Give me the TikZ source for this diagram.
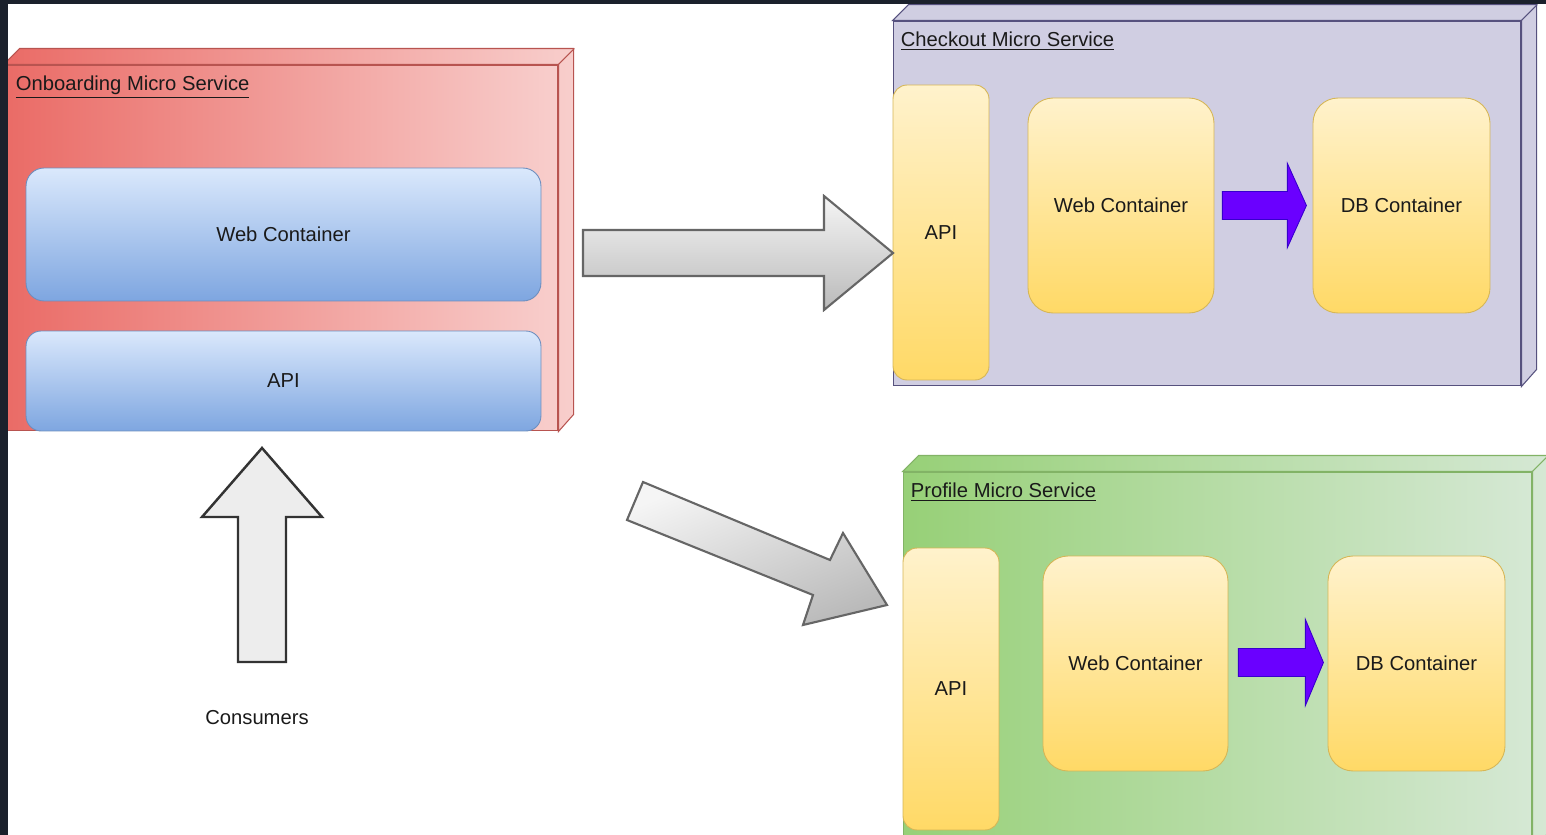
\documentclass[tikz,border=0pt]{standalone}
\usepackage{fontspec}
\setmainfont{Liberation Sans}
\usetikzlibrary{positioning,calc}

\definecolor{frame}{HTML}{1B212C}
\definecolor{txt}{HTML}{1A1A1A}
\definecolor{onbL}{HTML}{EA6B66}
\definecolor{onbR}{HTML}{F8CECC}
\definecolor{onbD}{HTML}{B85450}
\definecolor{chkF}{HTML}{D0CEE2}
\definecolor{chkD}{HTML}{56517E}
\definecolor{prfL}{HTML}{97D077}
\definecolor{prfR}{HTML}{D5E8D4}
\definecolor{prfD}{HTML}{82B366}
\definecolor{bluT}{HTML}{DAE8FC}
\definecolor{bluB}{HTML}{7EA6E0}
\definecolor{bluD}{HTML}{6C8EBF}
\definecolor{yelT}{HTML}{FFF2CC}
\definecolor{yelB}{HTML}{FFD966}
\definecolor{yelD}{HTML}{D6B656}
\definecolor{purF}{HTML}{6A00FF}
\definecolor{purD}{HTML}{3700CC}

\begin{document}
\begin{tikzpicture}[x=0.02cm,y=-0.02cm,
  every node/.style={font=\fontsize{11.5}{13}\selectfont, text=txt},
  title/.style={anchor=base west, inner sep=0pt},
  onbbox/.style={draw=onbD, line width=0.6pt, shading=axis, left color=onbL, right color=onbR, inner sep=0pt},
  chkbox/.style={draw=chkD, line width=0.6pt, fill=chkF, inner sep=0pt},
  prfbox/.style={draw=prfD, line width=0.6pt, shading=axis, left color=prfL, right color=prfR, inner sep=0pt},
  bluebox/.style={draw=bluD, line width=0.5pt, shading=axis, top color=bluT, bottom color=bluB, rounded corners=0.36cm},
  yelbox/.style={draw=yelD, line width=0.5pt, shading=axis, top color=yelT, bottom color=yelB},
  bigarrow/.style={draw=black!60, line width=1.2pt, line join=miter, shading=axis, top color=black!4, bottom color=black!27},
  uparrow/.style={draw=black!80, line width=1.4pt, fill=black!7},
  purarrow/.style={draw=purD, line width=0.5pt, fill=purF}
]
\useasboundingbox (0,0) rectangle (1546,835);
\clip (0,0) rectangle (1546,835);
\fill[white] (0,0) rectangle (1546,835);

\node[onbbox, minimum width=11.08cm, minimum height=7.32cm] (onb) at (281,248) {};
\shade[onbbox] (onb.north west) -- ++(16,-16) -- ++(554,0) -- ++(0,366) -- (onb.south east) -- (onb.north east) -- cycle;
\draw[onbD, line width=0.6pt] (onb.north east) -- ++(16,-16);
\node[onbbox, minimum width=11.08cm, minimum height=7.32cm] at (onb) {};
\node[title] (onbt) at ($(onb.north west)+(12,26)$) {\underline{Onboarding Micro Service}};
\node[bluebox, minimum width=10.3cm, minimum height=2.66cm] (web) at (283.5,234.5) {Web Container};
\node[bluebox, rounded corners=0.3cm, minimum width=10.3cm, minimum height=2cm] (api) at (283.5,381) {API};

\node[chkbox, minimum width=12.56cm, minimum height=7.3cm] (chk) at (1207,203.5) {};
\filldraw[chkbox] (chk.north west) -- ++(16,-16) -- ++(628,0) -- ++(0,365) -- (chk.south east) -- (chk.north east) -- cycle;
\draw[chkD, line width=0.6pt] (chk.north east) -- ++(16,-16);
\node[title] (chkt) at ($(chk.north west)+(8,26)$) {\underline{Checkout Micro Service}};
\node[yelbox, rounded corners=0.28cm, minimum width=1.92cm, minimum height=5.9cm] (chkapi) at (941,232.5) {API};
\node[yelbox, rounded corners=0.5cm, minimum width=3.72cm, minimum height=4.3cm] (chkweb) at (1121,205.5) {Web Container};
\node[yelbox, rounded corners=0.5cm, minimum width=3.54cm, minimum height=4.3cm] (chkdb) at (1401.5,205.5) {DB Container};
\filldraw[purarrow] (chkweb.east) ++(8,-14) -- ++(65,0) -- ++(0,-28) -- ++(19,42) -- ++(-19,42) -- ++(0,-28) -- ++(-65,0) -- cycle;

\node[prfbox, minimum width=12.58cm, minimum height=7.56cm] (prf) at (1217.5,661) {};
\shade[prfbox] (prf.north west) -- ++(16,-16) -- ++(629,0) -- ++(0,378) -- (prf.south east) -- (prf.north east) -- cycle;
\draw[prfD, line width=0.6pt] (prf.north east) -- ++(16,-16);
\node[prfbox, minimum width=12.58cm, minimum height=7.56cm] at (prf) {};
\node[title] (prft) at ($(prf.north west)+(8,26)$) {\underline{Profile Micro Service}};
\node[yelbox, rounded corners=0.28cm, minimum width=1.92cm, minimum height=5.64cm] (prfapi) at (951,689) {API};
\node[yelbox, rounded corners=0.5cm, minimum width=3.7cm, minimum height=4.3cm] (prfweb) at (1135.5,663.5) {Web Container};
\node[yelbox, rounded corners=0.5cm, minimum width=3.54cm, minimum height=4.3cm] (prfdb) at (1416.5,663.5) {DB Container};
\filldraw[purarrow] (prfweb.east) ++(10,-15) -- ++(67,0) -- ++(0,-29) -- ++(18,43) -- ++(-18,43) -- ++(0,-29) -- ++(-67,0) -- cycle;

\shade[bigarrow] (583,230) -- (824,230) -- (824,196) -- (893,253) -- (824,310) -- (824,276) -- (583,276) -- cycle;
\shade[bigarrow, shading angle=22] (643,482) -- (830,560) -- (843,533) -- (887,605) -- (803,625) -- (813,595) -- (627,520) -- cycle;

\node (cons) at (257,718) {Consumers};
\filldraw[uparrow] (262,448) -- (322,517) -- (286,517) -- (286,662) -- (238,662) -- (238,517) -- (202,517) -- cycle;

\fill[frame] (0,0) rectangle (8,835);
\fill[frame] (0,0) rectangle (1546,4);
\end{tikzpicture}
\end{document}
